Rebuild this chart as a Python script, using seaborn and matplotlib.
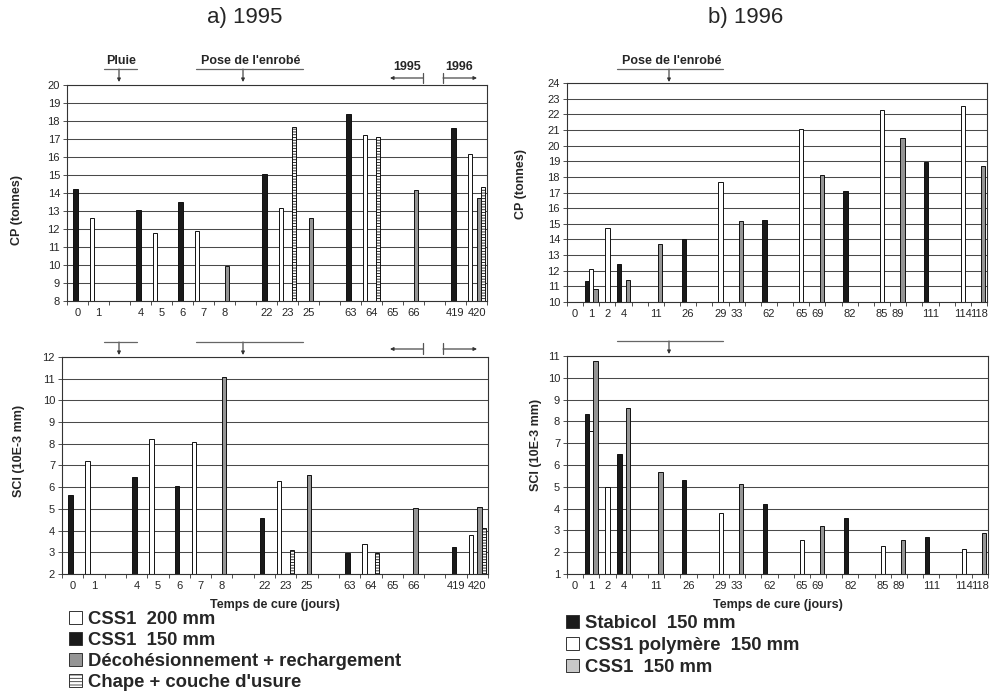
import numpy as np
import pandas as pd
import matplotlib
matplotlib.use("Agg")
import matplotlib.pyplot as plt
from matplotlib.patches import Patch, FancyArrowPatch
from matplotlib.lines import Line2D
from matplotlib.colors import to_rgb
import seaborn as sns

nan = np.nan

# ---------------- 1995 data ----------------
slots_1995 = ["0", "1", None, "4", "5", "6", "7", "8", None, "22", "23", "25", None,
              "63", "64", "65", "66", None, "419", "420"]
days_1995 = ["0", "1", "4", "5", "6", "7", "8", "22", "23", "25", "63", "64", "65", "66", "419", "420"]
series_1995 = ["CSS1  200 mm", "CSS1  150 mm", "Décohésionnement + rechargement", "Chape + couche d'usure"]

cp95_css1_200 = [nan, 12.6, nan, 11.8, nan, 11.9, nan, nan, 13.15, nan, nan, 17.2, nan, nan, nan, 16.15]
cp95_css1_150 = [14.2, nan, 13.05, nan, 13.5, nan, nan, 15.05, nan, nan, 18.4, nan, nan, nan, 17.6, nan]
cp95_decoh = [nan, nan, nan, nan, nan, nan, 9.95, nan, nan, 12.6, nan, nan, nan, 14.15, nan, 13.7]
cp95_chape = [nan, nan, nan, nan, nan, nan, nan, nan, 17.65, nan, nan, 17.1, nan, nan, nan, 14.35]

sci95_css1_200 = [nan, 7.2, nan, 8.2, nan, 8.1, nan, nan, 6.3, nan, nan, 3.4, nan, nan, nan, 3.8]
sci95_css1_150 = [5.65, nan, 6.45, nan, 6.05, nan, nan, 4.6, nan, nan, 2.95, nan, nan, nan, 3.25, nan]
sci95_decoh = [nan, nan, nan, nan, nan, nan, 11.1, nan, nan, 6.55, nan, nan, nan, 5.05, nan, 5.1]
sci95_chape = [nan, nan, nan, nan, nan, nan, nan, nan, 3.1, nan, nan, 2.95, nan, nan, nan, 4.1]

# ---------------- 1996 data ----------------
slots_1996 = ["0", "1", "2", "4", None, "11", None, "26", None, "29", "33", None, "62", None,
              "65", "69", None, "82", None, "85", "89", None, "111", None, "114", "118"]
days_1996 = ["0", "1", "2", "4", "11", "26", "29", "33", "62", "65", "69", "82", "85", "89", "111", "114", "118"]
series_1996 = ["Stabicol  150 mm", "CSS1 polymère  150 mm", "CSS1  150 mm"]

cp96_stabicol = [nan, 11.35, nan, 12.4, nan, 14.0, nan, nan, 15.25, nan, nan, 17.1, nan, nan, 18.95, nan, nan]
cp96_poly = [nan, 12.1, 14.7, nan, nan, nan, 17.65, nan, nan, 21.05, nan, nan, 22.25, nan, nan, 22.5, nan]
cp96_css1 = [nan, 10.8, nan, 11.4, 13.7, nan, nan, 15.2, nan, nan, 18.1, nan, nan, 20.5, nan, nan, 18.7]

sci96_stabicol = [nan, 8.35, nan, 6.5, nan, 5.3, nan, nan, 4.2, nan, nan, 3.55, nan, nan, 2.7, nan, nan]
sci96_poly = [nan, 7.55, 5.0, nan, nan, nan, 3.8, nan, nan, 2.55, nan, nan, 2.3, nan, nan, 2.15, nan]
sci96_css1 = [nan, 10.75, nan, 8.6, 5.7, nan, nan, 5.15, nan, nan, 3.2, nan, nan, 2.55, nan, nan, 2.9]

# ---------------- style ----------------
sns.set_style("white")
plt.rcParams['font.family'] = ['Liberation Sans', 'DejaVu Sans']
plt.rcParams['hatch.linewidth'] = 0.6

W, H = 993, 700
fig = plt.figure(figsize=(W / 100, H / 100), dpi=100)

WHITE = "#ffffff"
BLACK = "#1a1a1a"
GREY = "#959595"
HATCHC = "#fefefe"

pal95 = dict(zip(series_1995, [WHITE, BLACK, GREY, HATCHC]))
pal96 = dict(zip(series_1996, [BLACK, WHITE, GREY]))


def rect(x0, y0, x1, y1):
    return [x0 / W, 1 - y1 / H, (x1 - x0) / W, (y1 - y0) / H]


def panel(ax, slots, days, series, values, palette, ylim, ylabel, ylab_xy, xlabel=None):
    order = [s if s is not None else f"gap{i}" for i, s in enumerate(slots)]
    rows = []
    for name, vals in zip(series, values):
        for d, v in zip(days, vals):
            if not np.isnan(v):
                rows.append((d, name, v))
    df = pd.DataFrame(rows, columns=["day", "series", "value"])
    sns.barplot(data=df, x="day", y="value", hue="series", order=order, hue_order=series,
                palette=palette, width=0.8, dodge=True, saturation=1, errorbar=None,
                edgecolor="#111111", linewidth=0.7, legend=False, ax=ax)
    for p in ax.patches:
        if np.allclose(p.get_facecolor()[:3], to_rgb(HATCHC), atol=1e-3):
            p.set_hatch("------")
    n = len(slots)
    ax.set_xlim(-0.5, n - 0.5)
    ax.set_ylim(*ylim)
    ax.set_yticks(np.arange(ylim[0], ylim[1] + 1, 1))
    ax.set_xticks(np.arange(n))
    ax.set_xticklabels([s or "" for s in slots])
    ax.set_xticks(np.arange(-0.5, n, 1), minor=True)
    ax.tick_params(axis="x", which="major", length=0, labelsize=8, pad=5)
    ax.tick_params(axis="x", which="minor", length=3, width=0.6, color="#333333", direction="out", bottom=True)
    ax.tick_params(axis="y", length=3, width=0.6, color="#333333", labelsize=8, left=True, direction="out", pad=2)
    ax.yaxis.grid(True, color="#4a4a4a", lw=0.75)
    ax.set_axisbelow(True)
    for sp in ax.spines.values():
        sp.set_color("#333333")
        sp.set_linewidth(0.8)
        sp.set_visible(True)
    ax.set_ylabel(ylabel, fontsize=9, fontweight="bold")
    ax.yaxis.set_label_coords(*ylab_xy)
    if xlabel:
        ax.set_xlabel(xlabel, fontsize=9, fontweight="bold", labelpad=6)
    else:
        ax.set_xlabel("")


ax_tl = fig.add_axes(rect(67, 85, 487, 301))
ax_bl = fig.add_axes(rect(62, 357, 488, 574))
ax_tr = fig.add_axes(rect(567, 83, 987, 302))
ax_br = fig.add_axes(rect(567, 356, 988, 574))

panel(ax_tl, slots_1995, days_1995, series_1995,
      [cp95_css1_200, cp95_css1_150, cp95_decoh, cp95_chape], pal95,
      (8, 20), "CP (tonnes)", (-0.105, 0.42))
panel(ax_bl, slots_1995, days_1995, series_1995,
      [sci95_css1_200, sci95_css1_150, sci95_decoh, sci95_chape], pal95,
      (2, 12), "SCI (10E-3 mm)", (-0.087, 0.567), "Temps de cure (jours)")
panel(ax_tr, slots_1996, days_1996, series_1996,
      [cp96_stabicol, cp96_poly, cp96_css1], pal96,
      (10, 24), "CP (tonnes)", (-0.095, 0.54))
panel(ax_br, slots_1996, days_1996, series_1996,
      [sci96_stabicol, sci96_poly, sci96_css1], pal96,
      (1, 11), "SCI (10E-3 mm)", (-0.059, 0.59), "Temps de cure (jours)")

# ---------------- titles ----------------
fig.text(245 / W, 1 - 18 / H, "a) 1995", ha="center", va="center", fontsize=16)
fig.text(746 / W, 1 - 18 / H, "b) 1996", ha="center", va="center", fontsize=16)


# ---------------- annotations ----------------
def P(x, y):
    return (x / W, 1 - y / H)


def hline(x0, x1, y, color="#666666"):
    fig.add_artist(Line2D([x0 / W, x1 / W], [1 - y / H, 1 - y / H], transform=fig.transFigure,
                          color=color, lw=0.9))


def vline(x, y0, y1, color="#555555"):
    fig.add_artist(Line2D([x / W, x / W], [1 - y0 / H, 1 - y1 / H], transform=fig.transFigure,
                          color=color, lw=0.9))


def arrow(p0, p1):
    fig.add_artist(FancyArrowPatch(P(*p0), P(*p1), transform=fig.transFigure,
                                   arrowstyle="-|>", mutation_scale=5, lw=0.8, color="#333333",
                                   shrinkA=0, shrinkB=0))


bold9 = dict(fontsize=9, fontweight="bold", ha="center", va="center")
# top-left
fig.text(121 / W, 1 - 61 / H, "Pluie", **bold9)
hline(104, 137, 69)
arrow((119, 69), (119, 82))
fig.text(251 / W, 1 - 61 / H, "Pose de l'enrobé", **bold9)
hline(196, 303, 69)
arrow((243, 69), (243, 82))
fig.text(407 / W, 1 - 67 / H, "1995", **bold9)
arrow((423, 78), (390, 78))
vline(423, 73, 83)
fig.text(459 / W, 1 - 67 / H, "1996", **bold9)
arrow((443, 78), (477, 78))
vline(443, 73, 83)
# bottom-left
hline(104, 137, 342)
arrow((119, 342), (119, 355))
hline(196, 303, 342)
arrow((243, 342), (243, 355))
arrow((423, 349), (390, 349))
vline(423, 343, 354)
arrow((443, 349), (477, 349))
vline(443, 343, 354)
# top-right
fig.text(672 / W, 1 - 61 / H, "Pose de l'enrobé", **bold9)
hline(617, 723, 69)
arrow((669, 69), (669, 82))
# bottom-right
hline(617, 723, 341)
arrow((669, 341), (669, 354))

# ---------------- legends ----------------
lprop = {"family": ["Liberation Sans", "DejaVu Sans"], "weight": "bold", "size": 13.3}
h95 = [Patch(facecolor=WHITE, edgecolor="#333333", lw=0.7, label=series_1995[0]),
       Patch(facecolor=BLACK, edgecolor="#333333", lw=0.7, label=series_1995[1]),
       Patch(facecolor=GREY, edgecolor="#333333", lw=0.7, label=series_1995[2]),
       Patch(facecolor=WHITE, edgecolor="#333333", lw=0.7, hatch="-----", label=series_1995[3])]
fig.legend(handles=h95, loc="upper left", bbox_to_anchor=(69 / W, 1 - 611 / H), frameon=False,
           prop=lprop, handlelength=0.7, handleheight=0.7, handletextpad=0.35,
           labelspacing=0.22, borderpad=0, borderaxespad=0)
h96 = [Patch(facecolor=BLACK, edgecolor="#333333", lw=0.7, label=series_1996[0]),
       Patch(facecolor=WHITE, edgecolor="#333333", lw=0.7, label=series_1996[1]),
       Patch(facecolor="#c8c8c8", edgecolor="#333333", lw=0.7, label=series_1996[2])]
fig.legend(handles=h96, loc="upper left", bbox_to_anchor=(566 / W, 1 - 615 / H), frameon=False,
           prop=lprop, handlelength=0.7, handleheight=0.7, handletextpad=0.35,
           labelspacing=0.27, borderpad=0, borderaxespad=0)

fig.savefig("out.png", dpi=100)
